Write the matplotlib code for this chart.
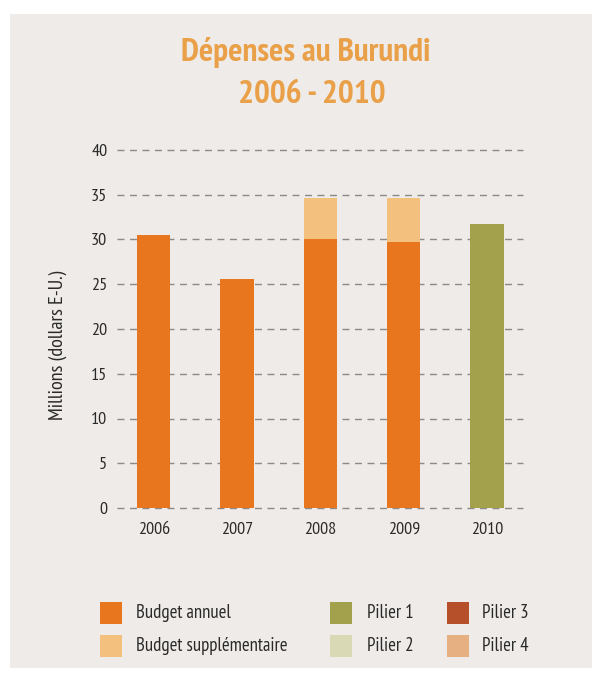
import matplotlib
matplotlib.use("Agg")
import matplotlib.pyplot as plt
from matplotlib.patches import Rectangle
import numpy as np

years = ["2006", "2007", "2008", "2009", "2010"]
budget_annuel = [30.5, 25.6, 30.0, 29.7, 0]
budget_supp = [0, 0, 4.6, 4.9, 0]
pilier1 = [0, 0, 0, 0, 31.7]
yticks = [0, 5, 10, 15, 20, 25, 30, 35, 40]

legend_labels = ["Budget annuel", "Budget supplémentaire", "Pilier 1", "Pilier 2", "Pilier 3", "Pilier 4"]
legend_colors = ["#E8761E", "#F4C07E", "#A3A14C", "#D9D9B5", "#B5502A", "#E6B082"]

FONT = ["PT Sans Narrow", "DejaVu Sans"]
plt.rcParams['font.family'] = FONT

W, H = 602, 679
fig = plt.figure(figsize=(W / 100, H / 100), dpi=100)
fig.patch.set_facecolor("white")

# paper background
fig.add_artist(Rectangle((10 / W, 1 - 668 / H), 582 / W, 654 / H,
                         transform=fig.transFigure, facecolor="#EEEBE8",
                         edgecolor="none", zorder=-10))

ax = fig.add_axes([117 / W, 1 - 508 / H, 406 / W, 358 / H])
ax.set_facecolor("none")
x = np.arange(len(years))
w = 0.4
c_annuel, c_supp, c_p1 = legend_colors[0], legend_colors[1], legend_colors[2]
ax.bar(x, budget_annuel, width=w, color=c_annuel, zorder=3)
ax.bar(x, budget_supp, width=w, bottom=budget_annuel, color=c_supp, zorder=3)
ax.bar(x, pilier1, width=w, color=c_p1, zorder=3)

ax.set_xlim(-0.44, 4.43)
ax.set_ylim(0, 40)
ax.set_yticks(yticks)
for t in yticks:
    ax.axhline(t, color="#8A8A8A", lw=1.0, ls=(0, (5, 4)), zorder=1, clip_on=False)
for s in ax.spines.values():
    s.set_visible(False)
ax.tick_params(length=0, labelsize=13, colors="#2A2A2A")
ax.tick_params(axis="y", pad=7)
ax.set_xticks(x)
ax.set_xticklabels(years)
ax.tick_params(axis="x", pad=10)
ax.set_ylabel("Millions (dollars E-U.)", fontsize=14.5, color="#2A2A2A",
              rotation=90, va="center", ha="center")
ax.yaxis.set_label_coords((58 - 117) / 406, (508 - 345) / 358)

# title
fig.text(306 / W, 1 - 61 / H, "Dépenses au Burundi", ha="center", va="baseline",
         fontsize=24, fontweight="bold", color="#E9A048")
fig.text(312 / W, 1 - 103 / H, "2006 - 2010", ha="center", va="baseline",
         fontsize=24, fontweight="bold", color="#E9A048")

# legend
sq_x = [100, 100, 330, 330, 447, 447]
txt_x = [136, 136, 367, 367, 482, 482]
row_y = [613, 646, 613, 646, 613, 646]
for lab, col, sx, tx, ry in zip(legend_labels, legend_colors, sq_x, txt_x, row_y):
    fig.add_artist(Rectangle((sx / W, 1 - (ry + 11) / H), 22 / W, 22 / H,
                             transform=fig.transFigure, facecolor=col, edgecolor="none"))
    fig.text(tx / W, 1 - ry / H, lab, ha="left", va="center", fontsize=13.5, color="#2A2A2A")

fig.savefig("out.png", dpi=100, facecolor=fig.get_facecolor())
